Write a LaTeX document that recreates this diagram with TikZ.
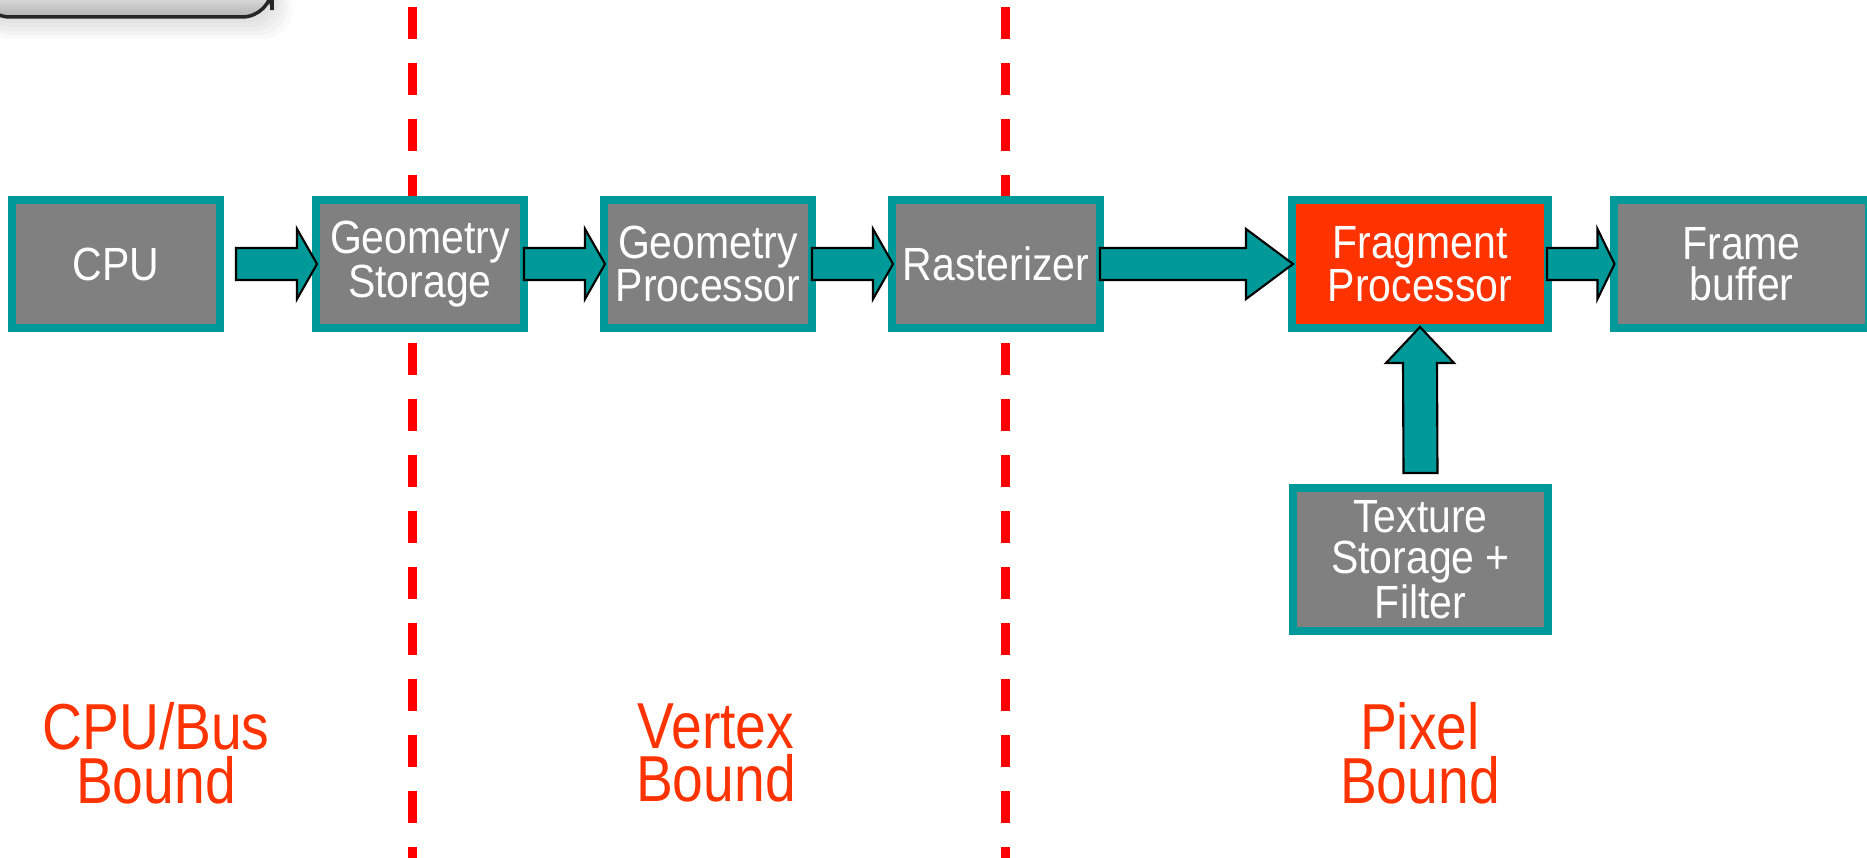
\documentclass[tikz,border=0pt]{standalone}
\usepackage{fontspec}
\setmainfont{Liberation Sans}
\newfontfamily\boxfont[FakeStretch=0.88]{Liberation Sans}
\newfontfamily\boundfont[FakeStretch=0.85]{Liberation Sans}
\usetikzlibrary{calc}
\definecolor{pipeteal}{HTML}{009999}
\definecolor{pipegray}{HTML}{808080}
\definecolor{hotred}{HTML}{FF3300}
\definecolor{divred}{HTML}{FF0000}

\begin{document}
\begin{tikzpicture}[x=0.02cm,y=-0.02cm,
  stage/.style={rectangle,fill=pipegray,draw=pipeteal,line width=0.16cm,minimum width=4.16cm,minimum height=2.56cm,inner sep=0pt,align=center,text=white,font=\boxfont\fontsize{26.5}{23.3}\selectfont},
  fatarrow/.style={fill=pipeteal,draw=black,line width=1.2pt,line join=miter},
  bound/.style={text=hotred,align=center,font=\boundfont\fontsize{37}{30.5}\selectfont},
  divider/.style={divred,line width=0.18cm,dash pattern=on 0.64cm off 0.48cm}]
  \useasboundingbox (0,0) rectangle (1867,858);
  % kus titulku vlevo nahore (s mekkym stinem)
  \foreach \d in {2,6,10,14,18,22}
    {\fill[black,opacity=0.025,rounded corners=0.6cm] (-20,-20) rectangle (270+\d,17+\d);}
  \shade[top color=white,bottom color=gray!60,draw=black!85,line width=0.07cm,rounded corners=0.6cm] (-20,-20) rectangle (272,17);
  % deleni CPU | vertex | pixel
  \draw[divider] (412,7) -- (412,870);
  \draw[divider] (1005,7) -- (1005,870);
  % bloky pipeline
  \foreach \n/\x/\txt in {cpu/116/CPU,gs/420/Geometry\\Storage,gp/708/Geometry\\Processor,ras/996/Rasterizer}
    {\node[stage] (\n) at (\x,264) {\txt};}
  \node[stage,fill=hotred,minimum width=5.12cm] (fp) at (1420,264) {Fragment\\Processor};
  \node[stage,minimum width=5.12cm] (fb) at (1741.5,264) {Frame\\buffer};
  \node[stage,minimum width=5.1cm,minimum height=2.86cm] (tex) at (1420.5,559.5) {Texture\\Storage +\\Filter};
  % sipky: odkud/kam/posun zacatku/delka hrotu
  \foreach \a/\b/\s/\h in {cpu/gs/12/20,gs/gp/-4/20,gp/ras/-4/20,ras/fp/-4/47,fp/fb/-5/17}
    {\draw[fatarrow] ($(\a.east)+(\s,-16)$) -- ($(\b.west)+(5-\h,-16)$) -- ($(\b.west)+(5-\h,-35)$) -- ($(\b.west)+(5,0)$)
       -- ($(\b.west)+(5-\h,35)$) -- ($(\b.west)+(5-\h,16)$) -- ($(\a.east)+(\s,16)$) -- cycle;}
  \draw[fatarrow] ($(tex.north)+(-17,-11)$) -- ($(fp.south)+(-17,31)$) -- ($(fp.south)+(-34,31)$) -- ($(fp.south)+(0,-5)$)
       -- ($(fp.south)+(34,31)$) -- ($(fp.south)+(17,31)$) -- ($(tex.north)+(17,-11)$) -- cycle;
  % popisky
  \node[bound] (cpubus) at (156,753) {CPU/Bus\\Bound};
  \node[bound] (vertex) at (716,753) {Vertex\\Bound};
  \node[bound] (pixel) at (1420,753) {Pixel\\Bound};
\end{tikzpicture}
\end{document}
